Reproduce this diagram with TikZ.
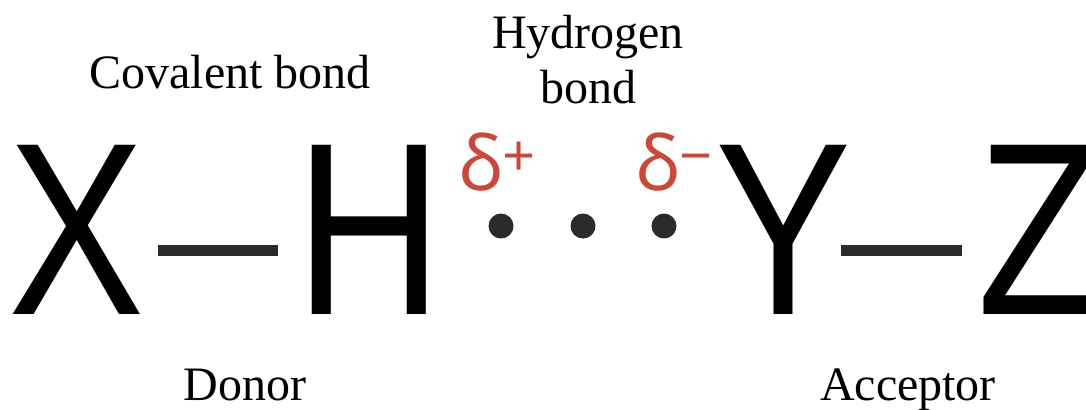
\documentclass[tikz,border=0pt]{standalone}
\usepackage{fontspec}
\setmainfont{Liberation Serif}
\newfontfamily\atomfont{Liberation Sans}
\newfontfamily\chargefont{Open Sans}
\usetikzlibrary{positioning}
\definecolor{bondgray}{HTML}{2B2B2B}
\definecolor{chargered}{HTML}{C8493A}
\newcommand{\chargesign}[1]{\raisebox{7pt}{\fontsize{29}{29}\selectfont #1}}

\begin{document}
\begin{tikzpicture}[x=0.5pt, y=-0.5pt,
  atom/.style={font=\atomfont\fontsize{123}{123}\selectfont, inner sep=0pt, anchor=base, xscale=0.83},
  charge/.style={font=\chargefont\fontsize{38}{38}\selectfont, text=chargered, inner sep=0pt, anchor=base},
  lbl/.style={font=\fontsize{24}{27.5}\selectfont, inner sep=0pt, anchor=base, align=center},
  bond/.style={draw=bondgray, line width=5.5pt},
  hdot/.style={circle, fill=bondgray, inner sep=0pt, minimum size=12.5pt}
]
\useasboundingbox (0,0) rectangle (1086,409);

% ===== Atoms =====
\node[atom] (X) at (77,314) {X};
\node[atom] (H) at (369,314) {H};
\node[atom] (Y) at (784,314) {Y};
\node[atom] (Z) at (1040,314) {Z};

% ===== Partial charges =====
\node[charge] (dplus)  at (497,190) {δ\chargesign{+}};
\node[charge] (dminus) at (674,190) {δ\chargesign{−}};

% ===== Bonds =====
\draw[bond, shorten <=6.5pt, shorten >=8.5pt] ([yshift=32pt]X.base east) -- ([yshift=32pt]H.base west);
\draw[bond, shorten <=-5.5pt, shorten >=7.5pt] ([yshift=32pt]Y.base east) -- ([yshift=32pt]Z.base west);
\node[hdot] (d1) at (501,226) {};
\node[hdot] (d2) at (583,226) {};
\node[hdot] (d3) at (664,226) {};

% ===== Labels =====
\node[lbl] (cov)   at (230,88)  {Covalent bond};
\node[lbl] (hyd)   at (588,103) {Hydrogen\\bond};
\node[lbl] (donor) at (245,400) {Donor};
\node[lbl] (acc)   at (908,400) {Acceptor};

\end{tikzpicture}
\end{document}
